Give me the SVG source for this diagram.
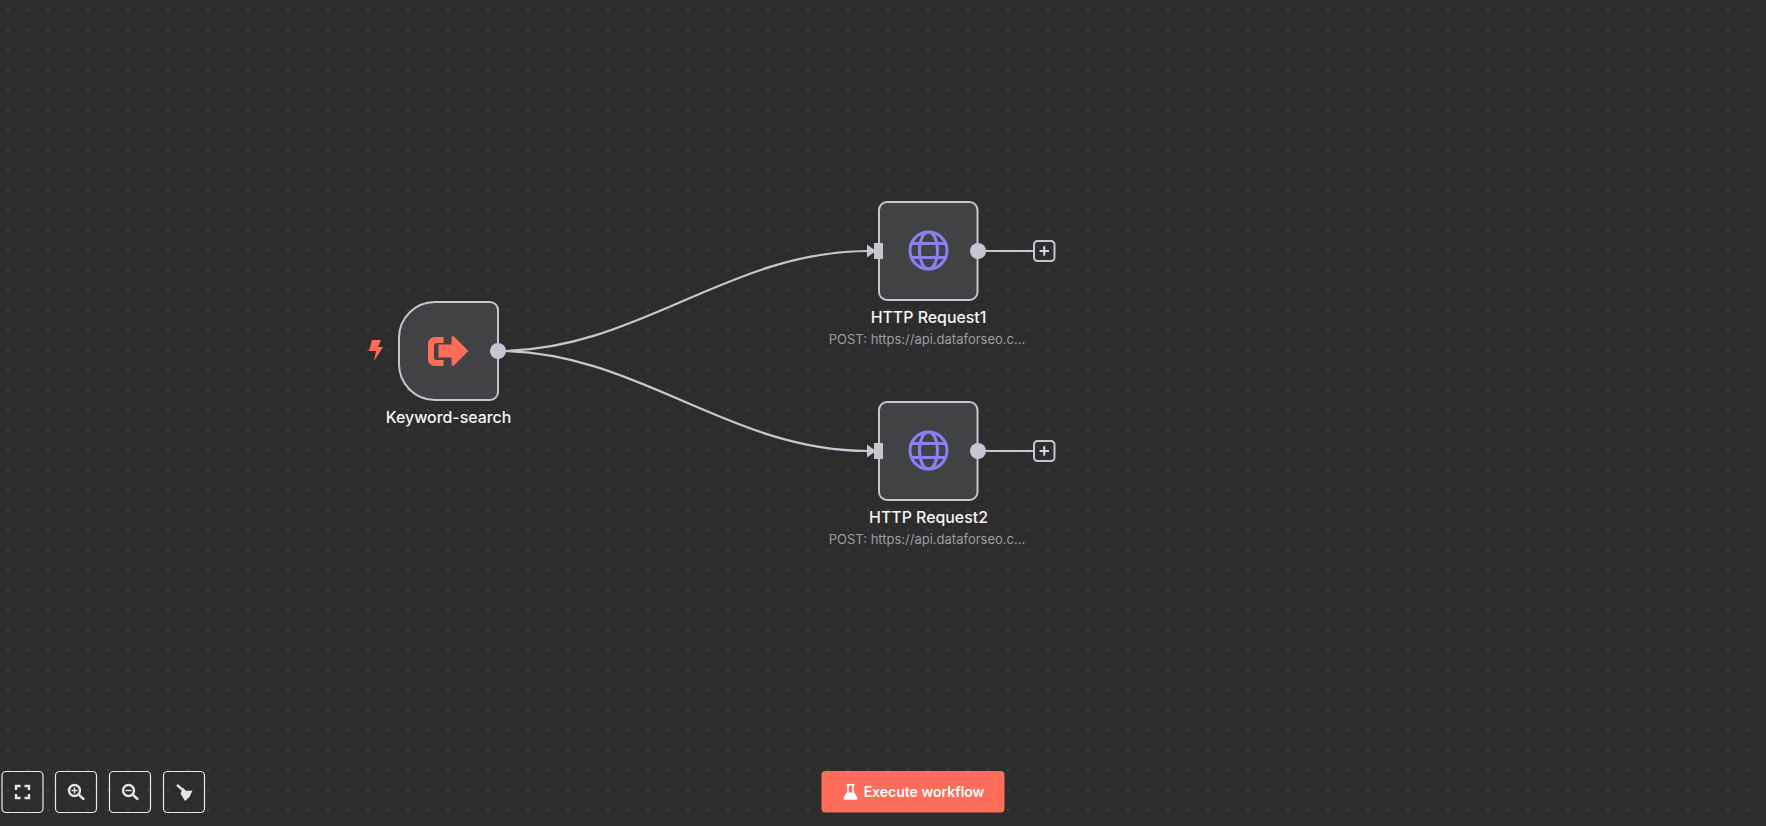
<svg xmlns="http://www.w3.org/2000/svg" width="1766" height="826" viewBox="0 0 1766 826">
<style>
text{font-family:Inter,"Noto Sans","Liberation Sans",sans-serif}
.node{fill:#414244;stroke:#c6c6d0;stroke-width:2}
.port{fill:#c6c6d0}
.wire{fill:none;stroke:#c6c6d0;stroke-width:2.2}
.title{font-size:15.900px;font-weight:500;fill:#f5f5f7;text-anchor:middle}
.sub{font-size:13px;fill:#9a9fa5;text-anchor:middle}
.globe{fill:none;stroke:#8c80ee;stroke-width:3}
.ctl{fill:none;stroke:#e8e8e8;stroke-width:1.2}
.ico{fill:none;stroke:#e4e4e4;stroke-width:2.4}
</style>
<defs>
<pattern id="dots" width="20" height="20" patternUnits="userSpaceOnUse"><rect x="7" y="9.500" width="2" height="1" fill="#5c5c5c"/></pattern>
<g id="globe"><circle r="18.500" class="globe"/><ellipse rx="9" ry="18.500" class="globe"/><path class="globe" d="M-16.500 -7H16.500M-16.500 7H16.500"/></g>
<g id="add"><rect x="-10" y="-10" width="20.500" height="20" rx="3.500" fill="#2e2e2e" stroke="#c6c6d0" stroke-width="2"/><path d="M-4.500 0H5M0.200 -4.700V4.700" stroke="#d8d8e0" stroke-width="2" fill="none"/></g>
</defs>
<rect width="1766" height="826" fill="#2d2d2d"/>
<rect width="1766" height="826" fill="url(#dots)"/>
<g id="connectors">
<path class="wire" d="M498 351C638 351 728 251 868 251"/>
<path class="wire" d="M498 351C638 351 728 451 868 451"/>
<path class="wire" d="M986 251H1034M986 451H1034"/>
<path class="port" d="M867 244.500L876 251L867 257.500Z"/>
<path class="port" d="M867 444.500L876 451L867 457.500Z"/>
</g>
<g id="node-keyword">
<path class="node" d="M435 302H490a8 8 0 0 1 8 8V392a8 8 0 0 1 -8 8H435a36 36 0 0 1 -36 -36V338a36 36 0 0 1 36 -36Z"/>
<path fill="#ff6d5a" d="M443.500 337H434.500a6.500 6.500 0 0 0 -6.500 6.500V359.500a6.500 6.500 0 0 0 6.500 6.500H443.500V360H436.500a2.500 2.500 0 0 1 -2.500 -2.500V345.500a2.500 2.500 0 0 1 2.500 -2.500H443.500Z"/>
<path fill="#ff6d5a" d="M438.500 344.500H451.500V337.500a1.500 1.500 0 0 1 2.500 -1L468.500 351L454 365.500a1.500 1.500 0 0 1 -2.500 -1V357.500H438.500Z"/>
<path fill="#ff6d5a" d="M372 340H381L378 347H383L374 361L376 351H369Z"/>
<circle class="port" cx="498" cy="351" r="8"/>
<text class="title" x="448.500" y="423">Keyword-search</text>
</g>
<g id="node-http1">
<rect class="node" x="879" y="202" width="98.500" height="98" rx="8"/>
<rect class="port" x="874" y="243" width="9" height="16"/>
<use href="#globe" x="928.500" y="250.500"/>
<circle class="port" cx="978" cy="251" r="8"/>
<use href="#add" x="1044" y="251"/>
<text class="title" x="928.500" y="323">HTTP Request1</text>
<text class="sub" x="927" y="344">POST: https://api.dataforseo.c...</text>
</g>
<g id="node-http2">
<rect class="node" x="879" y="402" width="98.500" height="98" rx="8"/>
<rect class="port" x="874" y="443" width="9" height="16"/>
<use href="#globe" x="928.500" y="450.500"/>
<circle class="port" cx="978" cy="451" r="8"/>
<use href="#add" x="1044" y="451"/>
<text class="title" x="928.500" y="523">HTTP Request2</text>
<text class="sub" x="927" y="544">POST: https://api.dataforseo.c...</text>
</g>
<g id="controls">
<rect class="ctl" x="2" y="771.500" width="41" height="41" rx="4"/>
<rect class="ctl" x="55.500" y="771.500" width="41" height="41" rx="4"/>
<rect class="ctl" x="109.500" y="771.500" width="41" height="41" rx="4"/>
<rect class="ctl" x="163.500" y="771.500" width="41" height="41" rx="4"/>
<path class="ico" d="M16 790V786H20.500M24.500 786H29V790M29 794V798H24.500M20.500 798H16V794"/>
<circle class="ico" cx="74.500" cy="790.500" r="5.500"/><path class="ico" d="M78.500 794.500L83.500 799" stroke-linecap="round"/><path d="M71.500 790.500H77.500M74.500 787.500V793.500" stroke="#e4e4e4" stroke-width="1.500"/>
<circle class="ico" cx="128.500" cy="790.500" r="5.500"/><path class="ico" d="M132.500 794.500L137.500 799" stroke-linecap="round"/><path d="M125.500 790.500H131.500" stroke="#e4e4e4" stroke-width="1.500"/>
<path stroke="#e4e4e4" stroke-width="2.400" d="M177 785L183 790"/>
<path fill="#e4e4e4" d="M183 788L186.500 791L192.500 790.500L189.500 797L185 801L180.500 793.500Z"/>
</g>
<g id="execute">
<rect x="821.500" y="771" width="183" height="41.500" rx="4" fill="#ff6d5a"/>
<path fill="none" stroke="#fff" stroke-width="1.600" d="M846.500 784.800H854.500M848 785V791.500L844.500 798M853 785V791.500L856.500 798"/>
<path fill="#fff" d="M847 792.500H854L857.500 798Q858 799.800 856 799.800H845Q843 799.800 843.500 798Z"/>
<text x="924" y="796.500" font-size="14" font-weight="600" fill="#fff" text-anchor="middle">Execute workflow</text>
</g>
</svg>
